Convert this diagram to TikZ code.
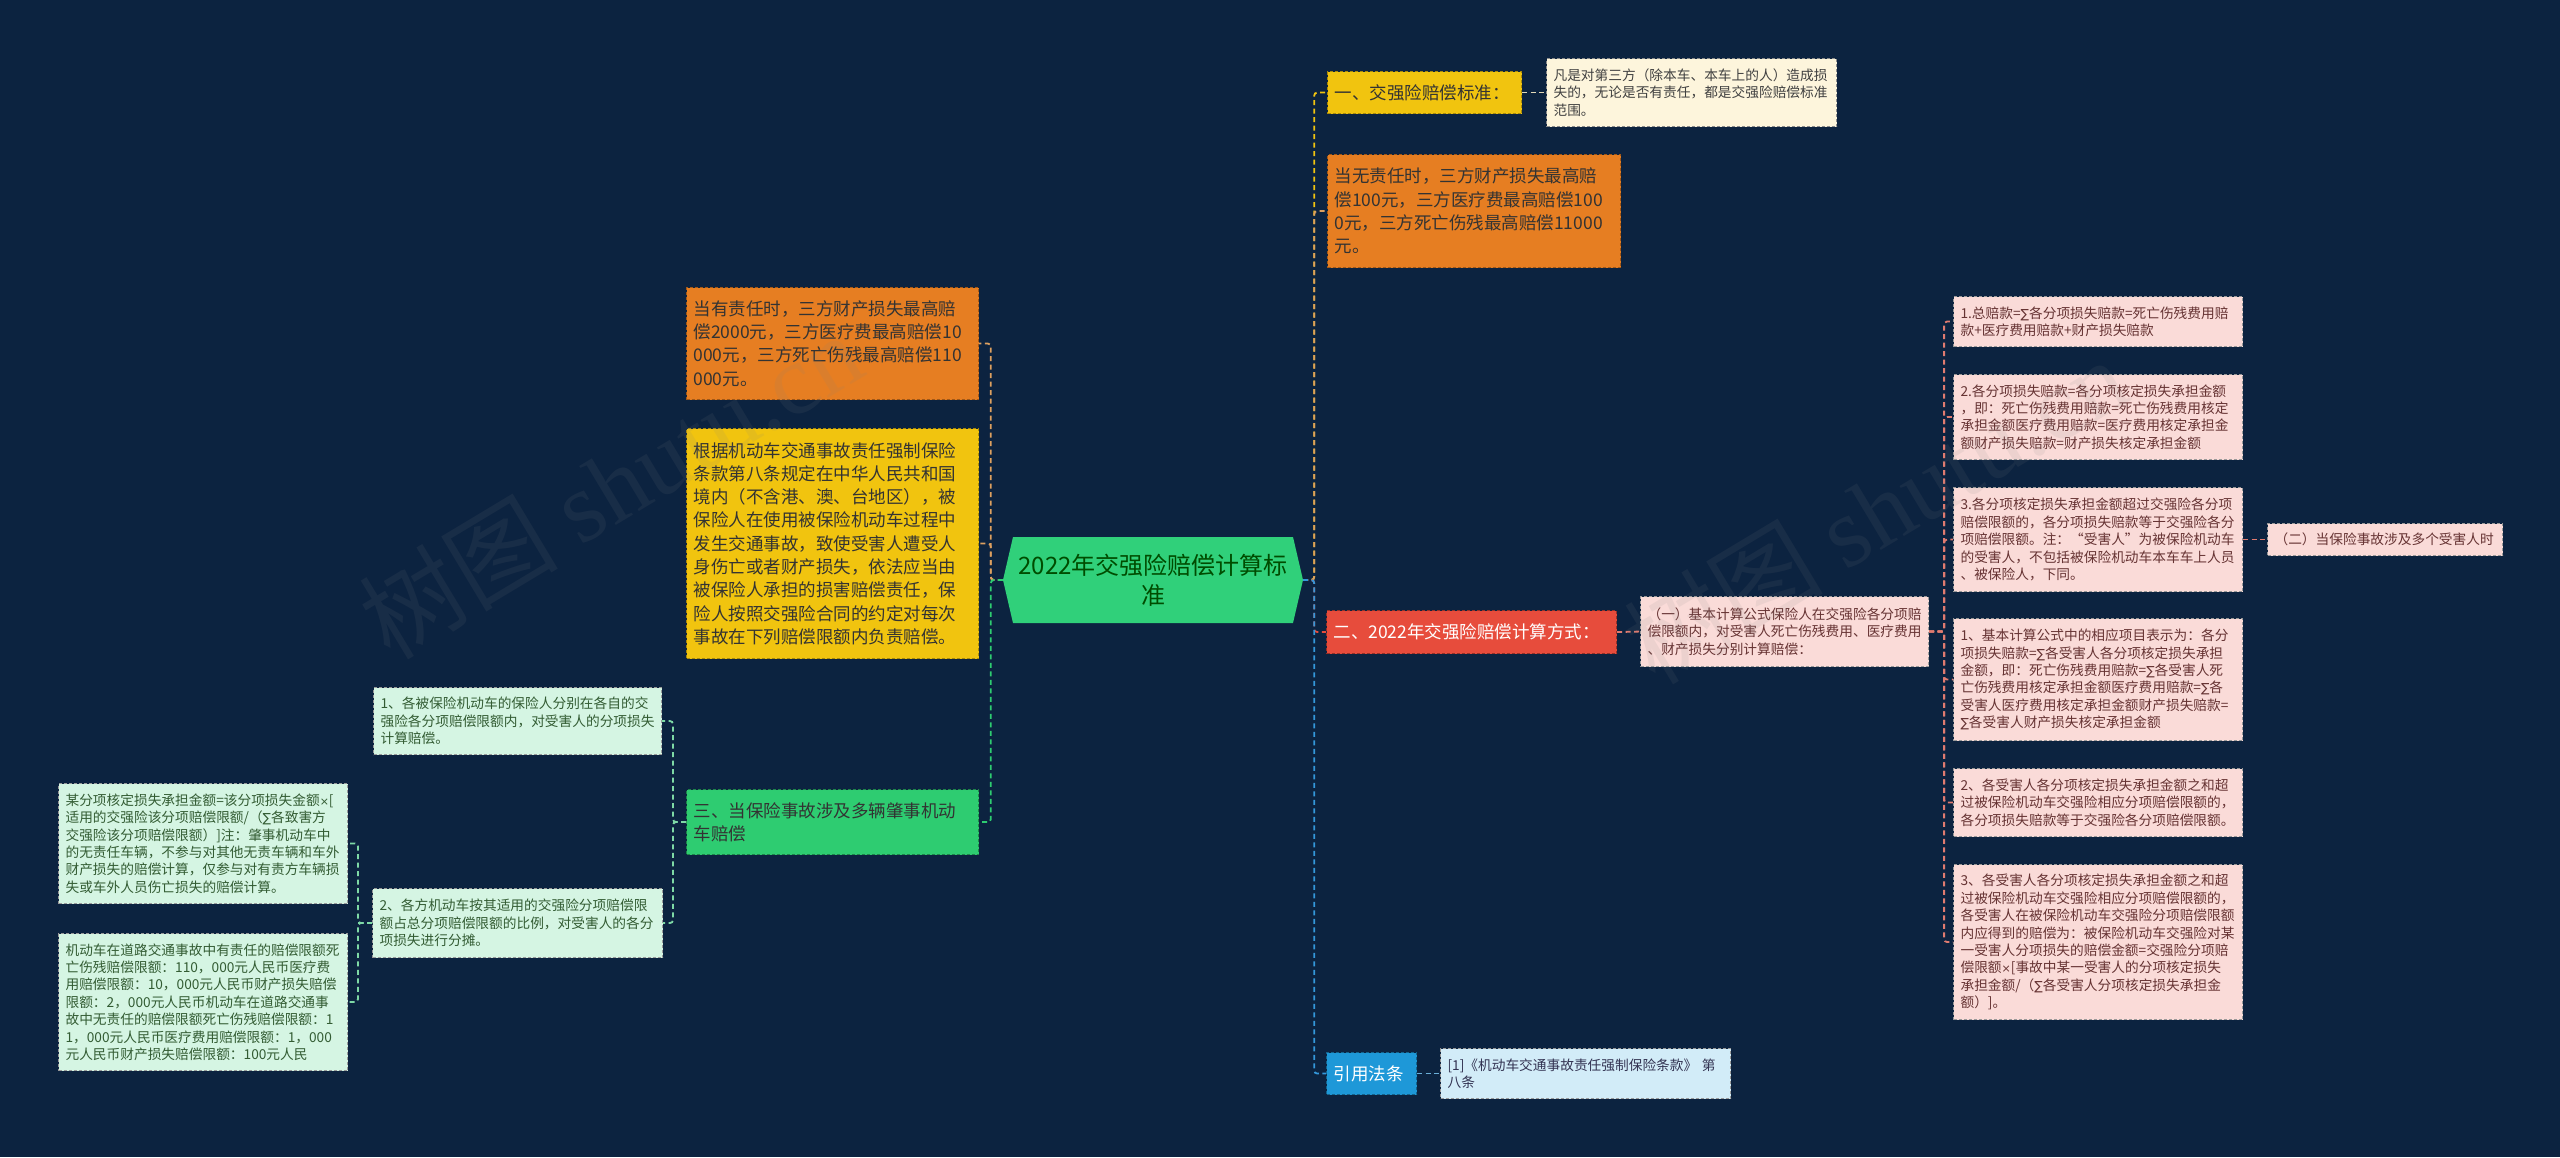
\documentclass[tikz,border=0pt]{standalone}
\usepackage{fontspec}
\setmainfont{Noto Sans CJK SC}
\newfontfamily\wmfont{Liberation Serif}
\newfontfamily\symf{DejaVu Sans}
\newcommand{\Sg}{{\symf\fontsize{12.5}{17.4}\selectfont ∑}}
\newcommand{\Tm}{{\symf\fontsize{11}{17.4}\selectfont ×}}
\definecolor{bg}{HTML}{0C2340}
\definecolor{cYellow}{HTML}{F1C40F}
\definecolor{cOrange}{HTML}{E67E22}
\definecolor{cRed}{HTML}{E74C3C}
\definecolor{cBlue}{HTML}{1E98D8}
\definecolor{cGreen}{HTML}{2ECC71}
\definecolor{cRoot}{HTML}{30D07A}
\definecolor{lYellow}{HTML}{FDF5DC}
\definecolor{lPink}{HTML}{FADBD8}
\definecolor{lGreen}{HTML}{D5F5E3}
\definecolor{lBlue}{HTML}{D2ECF8}
\definecolor{kYellow}{HTML}{F1C40F}
\definecolor{kOrange}{HTML}{DDA060}
\definecolor{kRed}{HTML}{E74C3C}
\definecolor{kPink}{HTML}{E07B70}
\definecolor{kBlue}{HTML}{3498DB}
\definecolor{kLBlue}{HTML}{6AAFD8}
\definecolor{kGreen}{HTML}{2ECC71}
\definecolor{kLGreen}{HTML}{7ED9A6}
\definecolor{kCream}{HTML}{E2D9B8}
\tikzset{
  boxbase/.style={rectangle, anchor=north west, inner xsep=7pt, inner ysep=0pt,
    align=left, line width=1.1pt, dash pattern=on 3pt off 2pt},
  midf/.style={font=\fontsize{17.5}{23.3}\selectfont},
  smallf/.style={font=\fontsize{13.7}{17.4}\selectfont},
  yellowbox/.style={boxbase, midf, fill=cYellow, draw=cYellow!70!black, text=black!80},
  orangebox/.style={boxbase, midf, fill=cOrange, draw=cOrange!70!black, text=black!80},
  redbox/.style={boxbase, midf, fill=cRed, draw=cRed!65!black, text=white},
  bluebox/.style={boxbase, midf, fill=cBlue, draw=cBlue!65!black, text=white},
  greenbox/.style={boxbase, midf, fill=cGreen, draw=cGreen!65!black, text=black!80},
  lyellowbox/.style={boxbase, smallf, fill=lYellow, draw=black!45, text=black!75},
  pinkbox/.style={boxbase, smallf, fill=lPink, draw=black!40, text=red!25!black!80},
  lgreenbox/.style={boxbase, smallf, fill=lGreen, draw=black!40, text=green!20!black!80},
  lbluebox/.style={boxbase, smallf, fill=lBlue, draw=black!40, text=blue!15!black!80},
  conn/.style={line width=1.8pt, dash pattern=on 5pt off 3.5pt, rounded corners=3pt},
  wmark/.style={opacity=0.11, text=gray, font=\fontsize{100}{100}\selectfont},
}
\begin{document}
\begin{tikzpicture}[x=1pt,y=-1pt]
\fill[bg] (0,0) rectangle (2560,1157);
\useasboundingbox (0,0) rectangle (2560,1157);

% root
\fill[cRoot] (1003,580) -- (1013,537) -- (1293,537) -- (1303,580) -- (1293,623) -- (1013,623) -- cycle;
\node[minimum width=300pt, minimum height=87pt, text width=280pt, align=center, inner sep=0pt,
  font=\fontsize{24}{30}\selectfont, text=green!30!black] (root) at (1153,580) {2022年交强险赔偿计算标\\准};

% right side branches
\node[yellowbox, text width=180pt, minimum height=42pt] (b1) at (1327,71) {一、交强险赔偿标准：};
\node[lyellowbox, text width=276pt, minimum height=68pt] (b1c) at (1546,58) {凡是对第三方（除本车、本车上的人）造成损\\失的，无论是否有责任，都是交强险赔偿标准\\范围。};
\node[orangebox, text width=279pt, minimum height=113pt] (b2) at (1327,154) {当无责任时，三方财产损失最高赔\\偿100元，三方医疗费最高赔偿100\\0元，三方死亡伤残最高赔偿11000\\元。};
\node[redbox, text width=276pt, minimum height=43pt] (rd) at (1326,610) {二、2022年交强险赔偿计算方式：};
\node[pinkbox, text width=274pt, minimum height=70pt] (r1) at (1640,596) {（一）基本计算公式保险人在交强险各分项赔\\偿限额内，对受害人死亡伤残费用、医疗费用\\、财产损失分别计算赔偿：};
\node[pinkbox, text width=275pt, minimum height=50pt] (p1) at (1953,296) {1.总赔款=\Sg 各分项损失赔款=死亡伤残费用赔\\款+医疗费用赔款+财产损失赔款};
\node[pinkbox, text width=275pt, minimum height=85pt] (p2) at (1953,374) {2.各分项损失赔款=各分项核定损失承担金额\\，即：死亡伤残费用赔款=死亡伤残费用核定\\承担金额医疗费用赔款=医疗费用核定承担金\\额财产损失赔款=财产损失核定承担金额};
\node[pinkbox, text width=275pt, minimum height=104pt] (p3) at (1953,487) {3.各分项核定损失承担金额超过交强险各分项\\赔偿限额的，各分项损失赔款等于交强险各分\\项赔偿限额。注：“受害人”为被保险机动车\\的受害人，不包括被保险机动车本车车上人员\\、被保险人，下同。};
\node[pinkbox, text width=221pt, minimum height=32pt] (q1) at (2267,523) {（二）当保险事故涉及多个受害人时};
\node[pinkbox, text width=275pt, minimum height=122pt] (p4) at (1953,618) {1、基本计算公式中的相应项目表示为：各分\\项损失赔款=\Sg 各受害人各分项核定损失承担\\金额，即：死亡伤残费用赔款=\Sg 各受害人死\\亡伤残费用核定承担金额医疗费用赔款=\Sg 各\\受害人医疗费用核定承担金额财产损失赔款=\\\Sg 各受害人财产损失核定承担金额};
\node[pinkbox, text width=275pt, minimum height=68pt] (p5) at (1953,768) {2、各受害人各分项核定损失承担金额之和超\\过被保险机动车交强险相应分项赔偿限额的，\\各分项损失赔款等于交强险各分项赔偿限额。};
\node[pinkbox, text width=275pt, minimum height=155pt] (p6) at (1953,864) {3、各受害人各分项核定损失承担金额之和超\\过被保险机动车交强险相应分项赔偿限额的，\\各受害人在被保险机动车交强险分项赔偿限额\\内应得到的赔偿为：被保险机动车交强险对某\\一受害人分项损失的赔偿金额=交强险分项赔\\偿限额\Tm[事故中某一受害人的分项核定损失\\承担金额/（\Sg 各受害人分项核定损失承担金\\额）]。};
\node[bluebox, text width=76pt, minimum height=42pt] (bl) at (1326,1052) {引用法条};
\node[lbluebox, text width=276pt, minimum height=50pt] (blc) at (1440,1048) {{[1]}《机动车交通事故责任强制保险条款》 第\\八条};

% left side branches
\node[orangebox, text width=278pt, minimum height=112pt] (lo) at (686,287) {当有责任时，三方财产损失最高赔\\偿2000元，三方医疗费最高赔偿10\\000元，三方死亡伤残最高赔偿110\\000元。};
\node[yellowbox, text width=278pt, minimum height=230pt] (ly) at (686,428) {根据机动车交通事故责任强制保险\\条款第八条规定在中华人民共和国\\境内（不含港、澳、台地区），被\\保险人在使用被保险机动车过程中\\发生交通事故，致使受害人遭受人\\身伤亡或者财产损失，依法应当由\\被保险人承担的损害赔偿责任，保\\险人按照交强险合同的约定对每次\\事故在下列赔偿限额内负责赔偿。};
\node[greenbox, text width=278pt, minimum height=65pt] (g) at (686,789) {三、当保险事故涉及多辆肇事机动\\车赔偿};
\node[lgreenbox, text width=274pt, minimum height=67pt] (g1) at (373,687) {1、各被保险机动车的保险人分别在各自的交\\强险各分项赔偿限额内，对受害人的分项损失\\计算赔偿。};
\node[lgreenbox, text width=276pt, minimum height=69pt] (g2) at (372,888) {2、各方机动车按其适用的交强险分项赔偿限\\额占总分项赔偿限额的比例，对受害人的各分\\项损失进行分摊。};
\node[lgreenbox, text width=275pt, minimum height=120pt] (gg1) at (58,783) {某分项核定损失承担金额=该分项损失金额\Tm[\\适用的交强险该分项赔偿限额/（\Sg 各致害方\\交强险该分项赔偿限额）]注：肇事机动车中\\的无责任车辆，不参与对其他无责车辆和车外\\财产损失的赔偿计算，仅参与对有责方车辆损\\失或车外人员伤亡损失的赔偿计算。};
\node[lgreenbox, text width=275pt, minimum height=137pt] (gg2) at (58,933) {机动车在道路交通事故中有责任的赔偿限额死\\亡伤残赔偿限额：110，000元人民币医疗费\\用赔偿限额：10，000元人民币财产损失赔偿\\限额：2，000元人民币机动车在道路交通事\\故中无责任的赔偿限额死亡伤残赔偿限额：1\\1，000元人民币医疗费用赔偿限额：1，000\\元人民币财产损失赔偿限额：100元人民};

% connectors right
\draw[conn, kYellow] (root.east) -- ++(11,0) |- (b1.west);
\draw[conn, kOrange] (root.east) -- ++(11,0) |- (b2.west);
\draw[conn, kRed] (root.east) -- ++(11,0) |- (rd.west);
\draw[conn, kBlue] (root.east) -- ++(11,0) |- (bl.west);
\draw[conn, kCream] (b1.east) -- (b1c.west);
\draw[conn, kPink] (rd.east) -- (r1.west);
\draw[conn, kLBlue] (bl.east) -- (blc.west);
\foreach \n in {p1,p2,p3,p4,p5,p6}{
  \draw[conn, kPink] (r1.east) -- ++(15,0) |- (\n.west);
}
\draw[conn, kPink] (p3.east) -- (q1.west);

% connectors left
\draw[conn, kOrange] (root.west) -- ++(-12,0) |- (lo.east);
\draw[conn, kOrange] (root.west) -- ++(-12,0) |- (ly.east);
\draw[conn, kGreen] (root.west) -- ++(-12,0) |- (g.east);
\draw[conn, kLGreen] (g.west) -- ++(-13,0) |- (g1.east);
\draw[conn, kLGreen] (g.west) -- ++(-13,0) |- (g2.east);
\draw[conn, kLGreen] (g2.west) -- ++(-14,0) |- (gg1.east);
\draw[conn, kLGreen] (g2.west) -- ++(-14,0) |- (gg2.east);

% watermarks
\node[wmark, rotate=31] (wm1) at (610,485) {树图 {\wmfont shutu.cn}};
\node[wmark, rotate=31] (wm2) at (1875,510) {树图 {\wmfont shutu.cn}};
\end{tikzpicture}
\end{document}
